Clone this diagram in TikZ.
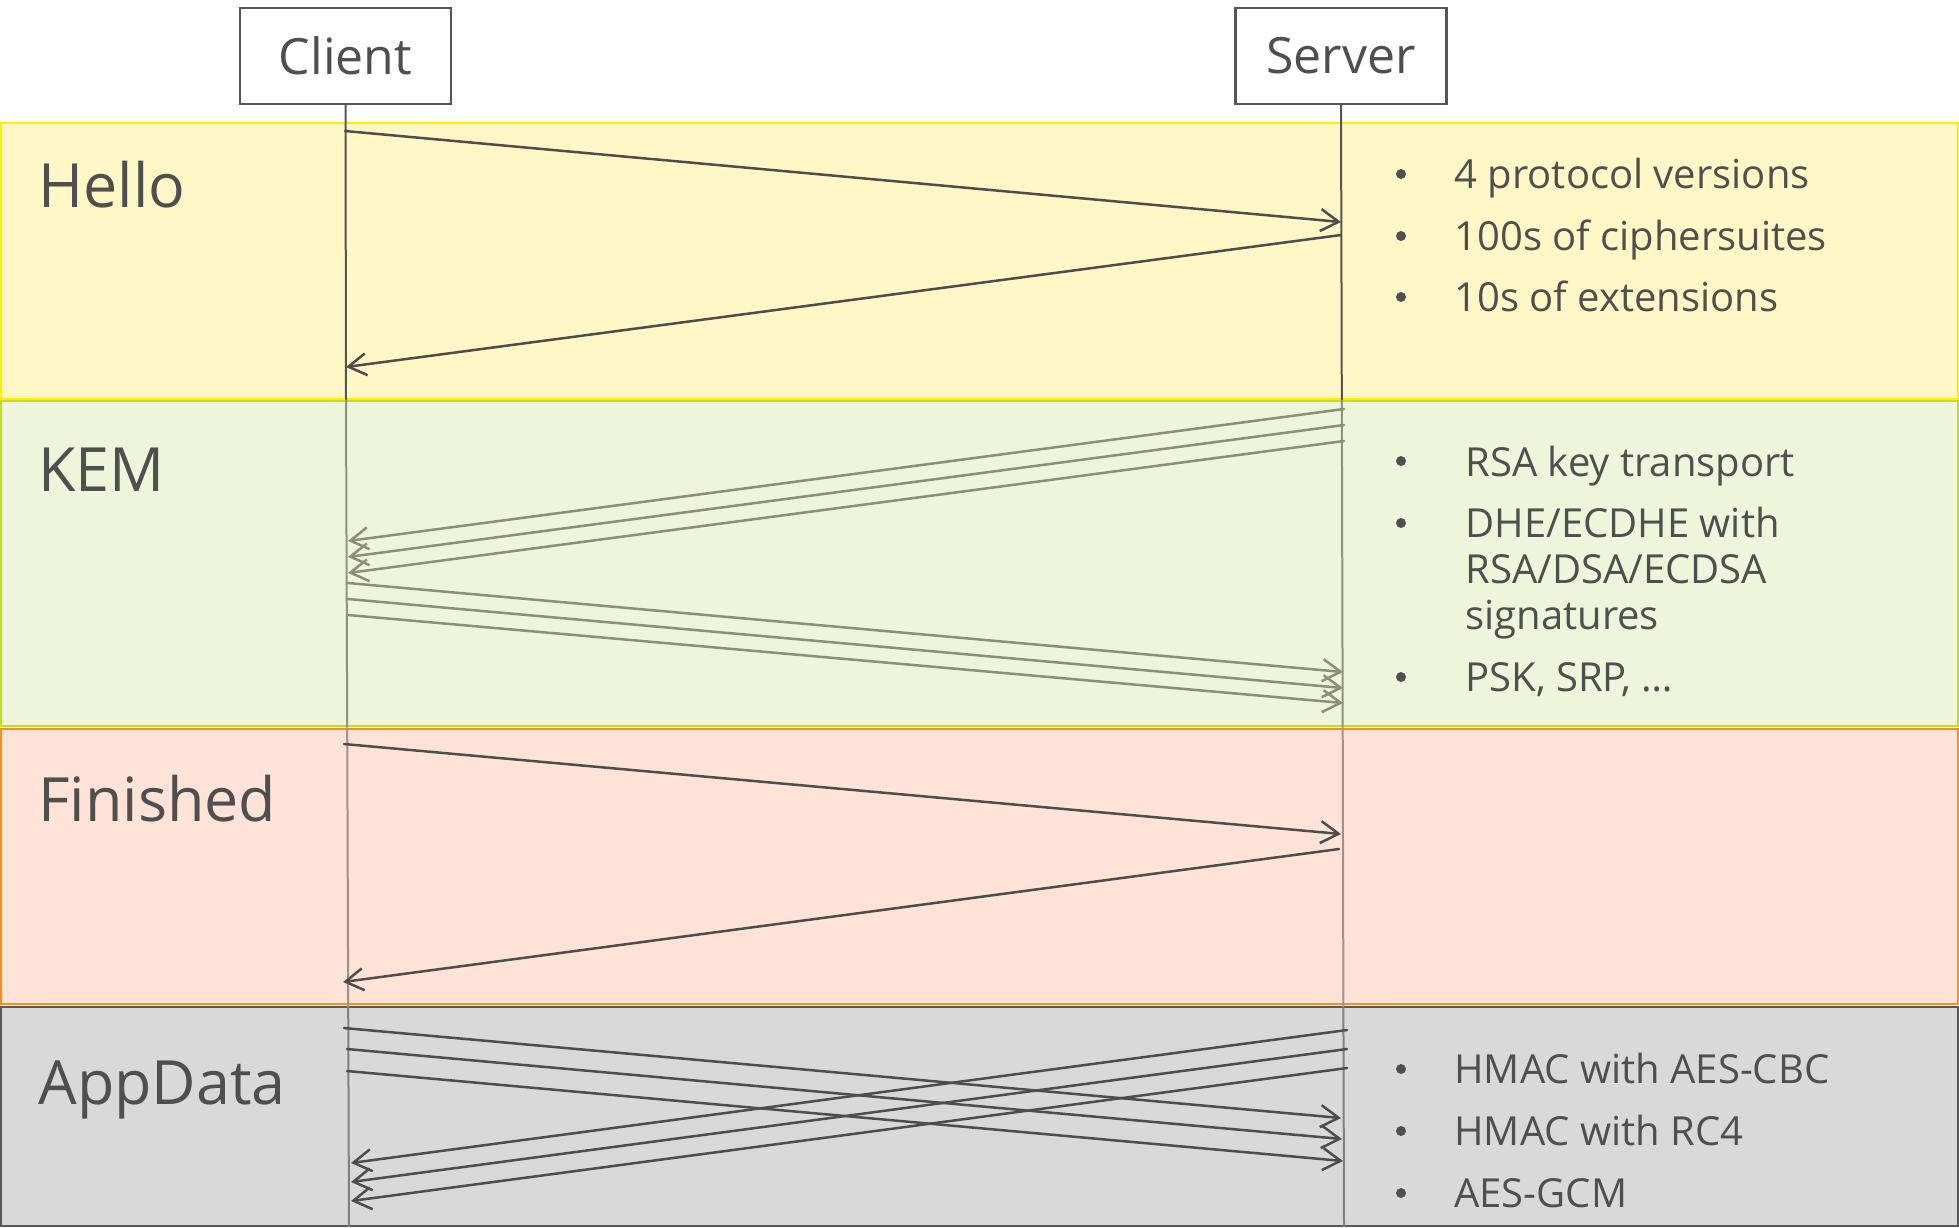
\documentclass[tikz,border=0pt]{standalone}
\usepackage{fontspec}
\setmainfont{Open Sans}
\usetikzlibrary{arrows.meta}
\definecolor{txt}{HTML}{4F4F4F}
\definecolor{helloF}{HTML}{FFF8C6}
\definecolor{helloB}{HTML}{FFEE00}
\definecolor{kemF}{HTML}{EFF5DA}
\definecolor{kemB}{HTML}{C2DC1E}
\definecolor{finF}{HTML}{FFE3D7}
\definecolor{finB}{HTML}{FF8C1E}
\definecolor{appF}{HTML}{D9D9D9}
\definecolor{appB}{HTML}{595959}
\definecolor{arrD}{HTML}{4D4D4D}
\definecolor{arrK}{HTML}{8A9077}
\definecolor{lifeH}{HTML}{555555}
\definecolor{lifeK}{HTML}{8E9479}
\definecolor{lifeF}{HTML}{A58F87}
\definecolor{lifeA}{HTML}{808080}
\begin{document}
\begin{tikzpicture}[x=0.5pt,y=-0.5pt,
  band/.style={line width=1.3pt},
  actor/.style={draw=lifeH, line width=1.1pt, fill=white, minimum width=105.5pt, minimum height=48pt, inner sep=0pt, text=txt, font=\fontsize{25}{30}\selectfont},
  life/.style={line width=1pt},
  msg/.style={line width=1.25pt, -{Straight Barb[length=9pt,width=11pt]}, line cap=round},
  phase/.style={anchor=base west, inner sep=0pt, text=txt, font=\fontsize{30.5}{36}\selectfont},
  item/.style={anchor=base west, inner sep=0pt, text=txt, font=\fontsize{20}{24}\selectfont},
  bul/.style={circle, fill=txt, minimum size=5pt, inner sep=0pt}]
\useasboundingbox (0,0) rectangle (1959,1227);
% bands
\path[band, draw=helloB, fill=helloF] (1,123) rectangle (1958,399);
\path[band, draw=kemB, fill=kemF] (1,401) rectangle (1958,726);
\path[band, draw=finB, fill=finF] (1,729) rectangle (1958,1004);
\path[band, draw=appB, fill=appF] (1,1007) rectangle (1958,1226);
% actors
\node[actor] (cl) at (345.5,56) {Client};
\node[actor] (sv) at (1341,56) {Server};
% lifeline coordinates
\coordinate (c1) at (346,400);
\coordinate (c2) at (347.2,727.5);
\coordinate (c3) at (348.2,1005.5);
\coordinate (c4) at (349,1227);
\coordinate (s1) at (1341.8,400);
\coordinate (s2) at (1342.7,727.5);
\coordinate (s3) at (1343.4,1005.5);
\coordinate (s4) at (1344,1227);
\draw[life, lifeH] (cl.south) -- (c1);
\draw[life, lifeK] (c1) -- (c2);
\draw[life, lifeF] (c2) -- (c3);
\draw[life, lifeA] (c3) -- (c4);
\draw[life, lifeH] (sv.south) -- (s1);
\draw[life, lifeK] (s1) -- (s2);
\draw[life, lifeF] (s2) -- (s3);
\draw[life, lifeA] (s3) -- (s4);
% Hello messages
\coordinate (h1a) at (345,131);  \coordinate (h1b) at (1341,222);
\coordinate (h2a) at (1341,235); \coordinate (h2b) at (346,367);
\draw[msg, arrD] (h1a) -- (h1b);
\draw[msg, arrD] (h2a) -- (h2b);
% KEM messages
\coordinate (k1a) at (1344,409); \coordinate (k1b) at (348,541);
\coordinate (k2a) at (1344,425); \coordinate (k2b) at (348,557);
\coordinate (k3a) at (1344,441); \coordinate (k3b) at (348,573);
\coordinate (k4a) at (348,583);  \coordinate (k4b) at (1343,672);
\coordinate (k5a) at (348,599);  \coordinate (k5b) at (1343,688);
\coordinate (k6a) at (348,615);  \coordinate (k6b) at (1343,703);
\foreach \i in {1,...,6} {\draw[msg, arrK] (k\i a) -- (k\i b);}
% Finished messages
\coordinate (f1a) at (344,744);  \coordinate (f1b) at (1341,834);
\coordinate (f2a) at (1339,849); \coordinate (f2b) at (343,982);
\draw[msg, arrD] (f1a) -- (f1b);
\draw[msg, arrD] (f2a) -- (f2b);
% AppData messages
\coordinate (a1a) at (344,1028);  \coordinate (a1b) at (1341,1118);
\coordinate (a2a) at (347,1049);  \coordinate (a2b) at (1342,1139);
\coordinate (a3a) at (347,1071);  \coordinate (a3b) at (1343,1161);
\coordinate (a4a) at (1347,1030); \coordinate (a4b) at (351,1163);
\coordinate (a5a) at (1347,1049); \coordinate (a5b) at (351,1182);
\coordinate (a6a) at (1347,1068); \coordinate (a6b) at (351,1201);
\foreach \i in {1,...,6} {\draw[msg, arrD] (a\i a) -- (a\i b);}
% phase labels
\node[phase] (pH) at (38,207) {Hello};
\node[phase] (pK) at (38,491) {KEM};
\node[phase] (pF) at (38,821) {Finished};
\node[phase] (pA) at (38,1104) {AppData};
% Hello items
\node[bul] (hb1) at (1401,174) {};
\node[bul] (hb2) at (1401,236) {};
\node[bul] (hb3) at (1401,297) {};
\node[item] (ht1) at (1454,188) {4 protocol versions};
\node[item] (ht2) at (1454,250) {100s of ciphersuites};
\node[item] (ht3) at (1454,311) {10s of extensions};
% KEM items
\node[bul] (kb1) at (1401,461) {};
\node[bul] (kb2) at (1401,523) {};
\node[bul] (kb3) at (1401,677) {};
\node[item] (kt1) at (1465,476) {RSA key transport};
\node[item] (kt2) at (1465,537) {DHE/ECDHE with};
\node[item] (kt3) at (1465,583) {RSA/DSA/ECDSA};
\node[item] (kt4) at (1465,629) {signatures};
\node[item] (kt5) at (1465,691) {PSK, SRP, …};
% AppData items
\node[bul] (ab1) at (1401,1069) {};
\node[bul] (ab2) at (1401,1131) {};
\node[bul] (ab3) at (1401,1193) {};
\node[item] (at1) at (1454,1083) {HMAC with AES-CBC};
\node[item] (at2) at (1454,1145) {HMAC with RC4};
\node[item] (at3) at (1454,1207) {AES-GCM};
\end{tikzpicture}
\end{document}
